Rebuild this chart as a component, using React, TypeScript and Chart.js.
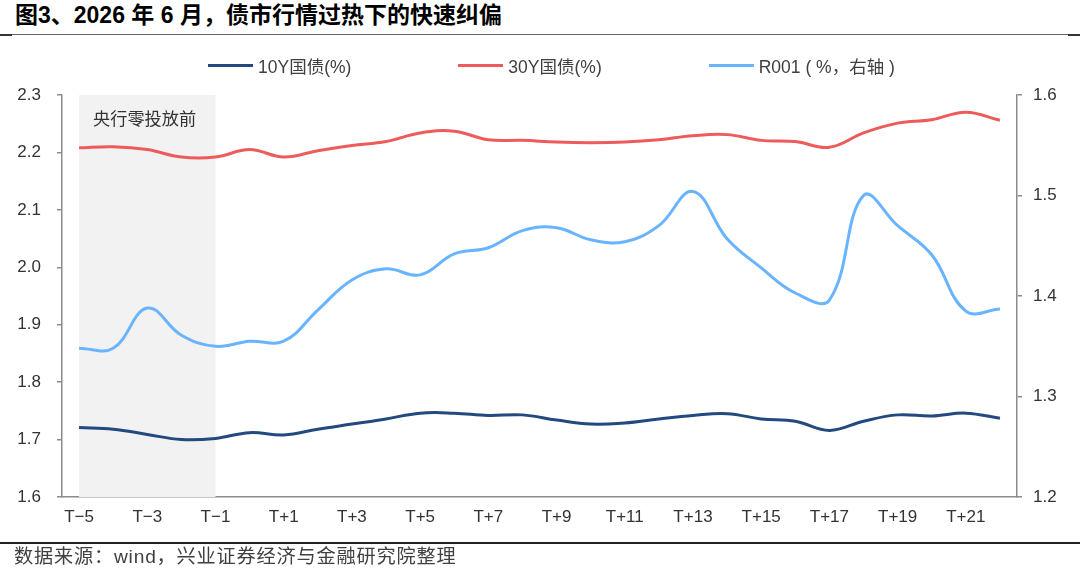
import React, { useEffect, useRef } from "react";
import { Chart, registerables } from "chart.js";

Chart.register(...registerables);

const FONT = '"Liberation Sans", Arial, "Noto Sans CJK SC", sans-serif';

const TITLE = "图3、2026 年 6 月，债市行情过热下的快速纠偏";
const SOURCE = "数据来源：wind，兴业证券经济与金融研究院整理";
const SHADE_TEXT = "央行零投放前";

const categories = [
  "T−5", "T−4", "T−3", "T−2", "T−1", "T", "T+1", "T+2", "T+3", "T+4",
  "T+5", "T+6", "T+7", "T+8", "T+9", "T+10", "T+11", "T+12", "T+13", "T+14",
  "T+15", "T+16", "T+17", "T+18", "T+19", "T+20", "T+21", "T+22",
];
// displayed tick labels (every other category)
const tickLabels = [
  "T−5", "T−3", "T−1", "T+1", "T+3", "T+5", "T+7", "T+9", "T+11", "T+13",
  "T+15", "T+17", "T+19", "T+21",
];

const series10Y = [
  1.721, 1.718, 1.709, 1.7, 1.702, 1.712, 1.708, 1.718, 1.727, 1.736,
  1.746, 1.746, 1.742, 1.743, 1.734, 1.727, 1.729, 1.736, 1.742, 1.745,
  1.736, 1.732, 1.716, 1.732, 1.743, 1.741, 1.746, 1.737,
];
const series30Y = [
  2.208, 2.21, 2.205, 2.192, 2.192, 2.205, 2.192, 2.203, 2.212, 2.219,
  2.234, 2.237, 2.222, 2.221, 2.218, 2.217, 2.218, 2.222, 2.229, 2.231,
  2.221, 2.219, 2.209, 2.234, 2.251, 2.257, 2.27, 2.256,
];
const seriesR001 = [
  1.348, 1.348, 1.388, 1.361, 1.35, 1.355, 1.355, 1.386, 1.416, 1.427,
  1.421, 1.442, 1.448, 1.465, 1.468, 1.456, 1.454, 1.47, 1.504, 1.457,
  1.428, 1.403, 1.396, 1.5, 1.47, 1.441, 1.385, 1.387,
];

const seriesNames = ["10Y国债(%)", "30Y国债(%)", "R001 ( %，右轴 )"];
const seriesColors = ["#23497F", "#EE5B5B", "#69B4FF"];

const leftTicks = { min: 1.6, max: 2.3, step: 0.1 };
const rightTicks = { min: 1.2, max: 1.6, step: 0.1 };
const shadeRange = ["T−5", "T−1"];

const shadePlugin = {
  id: "shade",
  beforeDatasetsDraw(chart: any) {
    const { ctx, chartArea, scales } = chart;
    const x0 = scales.x.getPixelForValue(categories.indexOf(shadeRange[0]));
    const x1 = scales.x.getPixelForValue(categories.indexOf(shadeRange[1]));
    ctx.save();
    ctx.fillStyle = "#F2F2F2";
    ctx.fillRect(x0, chartArea.top, x1 - x0, chartArea.bottom - chartArea.top);
    ctx.fillStyle = "#333333";
    ctx.font = `17.2px ${FONT}`;
    ctx.textBaseline = "middle";
    ctx.textAlign = "left";
    ctx.fillText(SHADE_TEXT, x0 + 14, chartArea.top + 25);
    ctx.restore();
  },
};

export default function App() {
  const ref = useRef<HTMLCanvasElement | null>(null);

  useEffect(() => {
    if (!ref.current) return;
    const axisColor = "#8C8C8C";
    const tickFont = { family: FONT, size: 17 };
    const mk = (i: number, data: number[], axis: string) => ({
      label: seriesNames[i],
      data,
      borderColor: seriesColors[i],
      backgroundColor: seriesColors[i],
      borderWidth: 3,
      pointRadius: 0,
      tension: 0.4,
      yAxisID: axis,
    });
    const chart = new Chart(ref.current, {
      type: "line",
      data: {
        labels: categories,
        datasets: [mk(0, series10Y, "y"), mk(1, series30Y, "y"), mk(2, seriesR001, "y1")],
      },
      options: {
        animation: false,
        responsive: false,
        devicePixelRatio: 1,
        layout: { padding: { top: 95, left: 0, right: 0, bottom: 50 } },
        plugins: {
          legend: { display: false },
          tooltip: { enabled: false },
        },
        scales: {
          x: {
            type: "category",
            offset: true,
            grid: { display: false, drawTicks: false },
            border: { display: true, color: axisColor, width: 1.5 },
            ticks: {
              autoSkip: false,
              maxRotation: 0,
              padding: 10,
              color: "#333333",
              font: tickFont,
              callback: (_v: any, i: number) =>
                tickLabels.includes(categories[i]) ? categories[i] : "",
            },
            afterFit: (s: any) => {
              s.height = 30;
            },
          },
          y: {
            position: "left",
            min: leftTicks.min,
            max: leftTicks.max,
            grid: { drawOnChartArea: false, drawTicks: true, tickLength: 5, color: axisColor, lineWidth: 1.5 },
            border: { display: true, color: axisColor, width: 1.5 },
            ticks: {
              stepSize: leftTicks.step,
              padding: 16,
              color: "#333333",
              font: tickFont,
              callback: (v: any) => Number(v).toFixed(1),
            },
            afterFit: (s: any) => {
              s.width = 62;
            },
          },
          y1: {
            position: "right",
            min: rightTicks.min,
            max: rightTicks.max,
            grid: { drawOnChartArea: false, drawTicks: true, tickLength: 5, color: axisColor, lineWidth: 1.5 },
            border: { display: true, color: axisColor, width: 1.5 },
            ticks: {
              stepSize: rightTicks.step,
              padding: 11,
              color: "#333333",
              font: tickFont,
              callback: (v: any) => Number(v).toFixed(1),
            },
            afterFit: (s: any) => {
              s.width = 63;
            },
          },
        },
      },
      plugins: [shadePlugin],
    } as any);
    return () => chart.destroy();
  }, []);

  return (
    <div
      style={{
        position: "fixed",
        left: 0,
        top: 0,
        width: 1080,
        height: 577,
        background: "#fff",
        fontFamily: FONT,
        overflow: "hidden",
      }}
    >
      <div
        style={{
          position: "absolute",
          left: 15,
          top: 0,
          height: 31,
          lineHeight: "31px",
          fontSize: 23,
          fontWeight: 700,
          color: "#000",
          whiteSpace: "nowrap",
        }}
      >
        {TITLE}
      </div>
      <div style={{ position: "absolute", left: 0, top: 34, width: 1080, height: 1, background: "#666" }} />
      <div style={{ position: "absolute", left: 0, top: 34, width: 12, height: 2, background: "#333" }} />
      <div style={{ position: "absolute", left: 1068, top: 34, width: 12, height: 2, background: "#333" }} />
      <canvas ref={ref} width={1080} height={577} style={{ position: "absolute", left: 0, top: 0 }} />
      <div
        style={{
          position: "absolute",
          left: 208,
          top: 54,
          height: 22,
          display: "flex",
          alignItems: "center",
          gap: 107,
          whiteSpace: "pre",
        }}
      >
        {seriesNames.map((n, i) => (
          <div key={n} style={{ display: "flex", alignItems: "center" }}>
            <span style={{ display: "inline-block", width: 45, height: 3, background: seriesColors[i], marginRight: 5 }} />
            <span style={{ fontSize: 17.5, color: "#404040" }}>{n}</span>
          </div>
        ))}
      </div>
      <div style={{ position: "absolute", left: 0, top: 542, width: 1080, height: 2, background: "#222" }} />
      <div
        style={{
          position: "absolute",
          left: 14,
          top: 546,
          height: 22,
          lineHeight: "22px",
          fontSize: 19.2,
          letterSpacing: 0.8,
          color: "#404040",
          whiteSpace: "nowrap",
        }}
      >
        {SOURCE}
      </div>
    </div>
  );
}
